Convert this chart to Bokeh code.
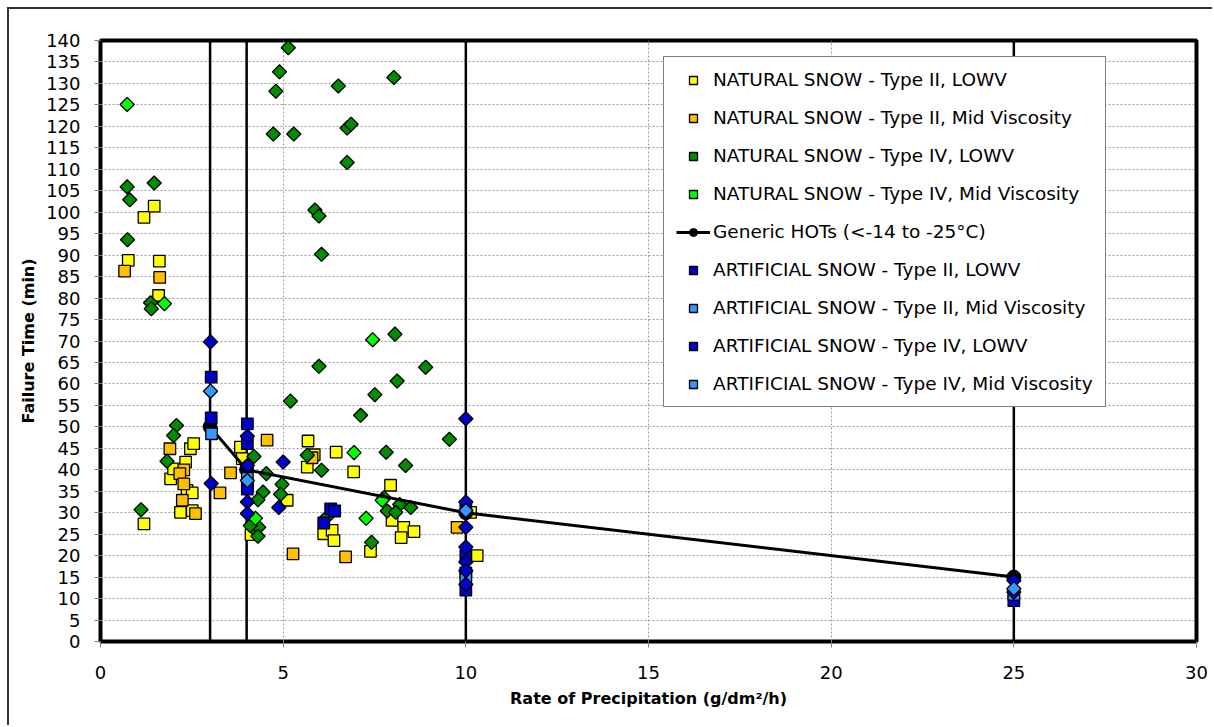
import math
from bokeh.plotting import figure
from bokeh.models import Range1d, FixedTicker
from bokeh.embed import file_html
from bokeh.resources import INLINE

# ---------------- data ----------------
x_ticks = [0, 5, 10, 15, 20, 25, 30]
y_ticks = list(range(0, 145, 5))
vline_x = [3, 4, 10, 25]

nat2_low_x = [0.76, 1.61, 1.59, 1.19, 1.47, 1.19, 1.92, 2.00, 2.33, 2.46, 2.55, 2.37, 2.51, 2.19, 2.51,
              3.83, 3.88, 4.12, 5.68, 5.66, 5.85, 6.45, 6.93, 5.11, 6.11, 6.34, 6.39, 7.39, 7.94, 7.98,
              8.30, 8.58, 8.23, 10.13, 10.31]
nat2_low_y = [88.8, 88.6, 80.6, 98.8, 101.4, 27.4, 37.9, 40.2, 41.8, 44.9, 46.1, 35.2, 34.6, 30.1, 30.5,
              45.3, 42.6, 24.9, 46.7, 40.6, 43.5, 44.1, 39.5, 32.9, 25.1, 25.9, 23.5, 21.0, 36.4, 28.2,
              26.6, 25.6, 24.2, 30.1, 20.0]

nat2_mid_x = [0.66, 1.62, 1.90, 2.28, 2.17, 2.28, 2.24, 2.60, 3.56, 3.27, 4.56, 5.27, 6.71, 5.79, 9.76]
nat2_mid_y = [86.3, 84.8, 44.9, 40.0, 39.1, 36.7, 32.9, 29.8, 39.3, 34.6, 46.9, 20.4, 19.7, 42.8, 26.6]

nat4_low_x = [0.73, 0.80, 1.47, 0.74, 5.14, 4.90, 4.80, 4.73, 5.29, 6.51, 6.75, 6.86, 6.75, 5.87, 5.98,
              8.03, 6.05, 1.37, 1.39, 5.98, 8.06, 8.12, 7.51, 7.12, 5.20, 2.08, 8.90, 9.55, 8.35, 8.49,
              1.11, 2.00, 1.82, 4.20, 4.54, 5.66, 6.05, 4.97, 4.93, 4.45, 4.31, 4.20, 4.33, 4.31, 4.10,
              7.42, 7.82, 8.19, 7.85, 8.08, 7.76, 6.20]
nat4_low_y = [105.9, 102.9, 106.8, 93.6, 138.3, 132.7, 128.2, 118.2, 118.2, 129.4, 119.6, 120.5, 111.6, 100.5, 99.1,
              131.4, 90.2, 78.9, 77.5, 64.1, 71.6, 60.7, 57.5, 52.7, 56.0, 50.3, 63.9, 47.1, 41.0, 31.2,
              30.7, 48.0, 42.0, 43.1, 39.1, 43.4, 39.9, 36.6, 34.3, 34.8, 33.0, 26.3, 26.6, 24.5, 27.0,
              23.1, 44.1, 31.9, 30.4, 30.1, 33.5, 29.0]

nat4_mid_x = [0.73, 1.75, 7.45, 4.24, 6.94, 7.27, 7.71]
nat4_mid_y = [125.1, 78.7, 70.3, 28.7, 44.0, 28.7, 32.9]

hot_x = [3, 4, 10, 25]
hot_y = [50, 40, 30, 15]

art2_low_x = [3.03, 3.03, 4.02, 4.02, 4.02, 4.02, 6.30, 6.41, 6.11, 10, 10, 10, 10, 25]
art2_low_y = [61.6, 52.1, 50.7, 46.1, 36.4, 35.5, 30.9, 30.4, 27.6, 12.0, 16.0, 20.0, 31.5, 9.5]

art2_mid_x = [3.04, 4.02, 10, 25]
art2_mid_y = [48.4, 38.0, 15.0, 11.0]

art4_low_x = [3.01, 3.03, 4.02, 4.02, 4.02, 4.02, 5.00, 4.88, 10, 10, 10, 10, 10, 10, 10, 25, 25]
art4_low_y = [69.8, 36.8, 47.8, 41.0, 32.5, 29.8, 41.8, 31.2, 51.9, 32.5, 26.6, 22.0, 18.5, 16.5, 13.3, 14.2, 11.5]

art4_mid_x = [3.01, 4.02, 10, 25]
art4_mid_y = [58.3, 37.5, 30.5, 12.3]

x_title = "Rate of Precipitation (g/dm²/h)"
y_title = "Failure Time (min)"

# ---------------- figure ----------------
FONT = "DejaVu Sans"
p = figure(width=1212, height=725, x_range=Range1d(0, 30), y_range=Range1d(0, 140),
           output_backend="svg", toolbar_location=None,
           min_border_left=100, min_border_right=16, min_border_top=40, min_border_bottom=84)
# outer chart-area border (left and top edges visible, as in the reference)
p.border_fill_color = None
p.styles = {"box-shadow": "inset 7px 7px 0 0 #ffffff, inset 9px 9px 0 0 #333333"}

p.outline_line_color = "black"
p.outline_line_width = 4

for ax in (p.xaxis, p.yaxis):
    ax.axis_line_color = None
    ax.major_tick_line_color = "#808080"
    ax.major_tick_line_width = 1
    ax.major_tick_out = 6
    ax.major_tick_in = 0
    ax.minor_tick_line_color = None
    ax.major_label_text_font = FONT
    ax.major_label_text_font_size = "18px"
    ax.major_label_text_color = "black"
    ax.axis_label_text_font = FONT
    ax.axis_label_text_font_style = "bold"
    ax.axis_label_text_font_size = "16px"
    ax.axis_label_text_color = "black"

p.xaxis.ticker = FixedTicker(ticks=x_ticks)
p.yaxis.ticker = FixedTicker(ticks=y_ticks)
p.xaxis.major_label_standoff = 18
p.yaxis.major_label_standoff = 14
p.xaxis.axis_label = x_title
p.yaxis.axis_label = y_title
p.xaxis.axis_label_standoff = 7
p.yaxis.axis_label_standoff = 5

p.xgrid.ticker = FixedTicker(ticks=x_ticks)
p.ygrid.ticker = FixedTicker(ticks=y_ticks)
for g in (p.xgrid, p.ygrid):
    g.grid_line_color = "#9a9a9a"
    g.grid_line_dash = "2 2"
    g.grid_line_width = 1

# vertical reference lines
p.segment(x0=vline_x, y0=[0] * len(vline_x), x1=vline_x, y1=[140] * len(vline_x),
          line_color="black", line_width=2.5)

SQ = 11.5
DM = 10
ANG = math.pi / 4

p.scatter(nat2_low_x, nat2_low_y, marker="square", size=SQ, fill_color="#FFFF00",
          line_color="black", line_width=1.3, legend_label="NATURAL SNOW - Type II, LOWV")
p.scatter(nat2_mid_x, nat2_mid_y, marker="square", size=SQ, fill_color="#FFC000",
          line_color="black", line_width=1.3, legend_label="NATURAL SNOW - Type II, Mid Viscosity")
p.scatter(nat4_low_x, nat4_low_y, marker="square", angle=ANG, size=DM, fill_color="#008C00",
          line_color="black", line_width=1.3, legend_label="NATURAL SNOW - Type IV, LOWV")
p.scatter(nat4_mid_x, nat4_mid_y, marker="square", angle=ANG, size=DM, fill_color="#00FF00",
          line_color="black", line_width=1.3, legend_label="NATURAL SNOW - Type IV, Mid Viscosity")
p.line(hot_x, hot_y, line_color="black", line_width=3, legend_label="Generic HOTs (<-14 to -25°C)")
p.scatter(hot_x, hot_y, marker="circle", size=14, fill_color="black", line_color="black",
          legend_label="Generic HOTs (<-14 to -25°C)")
p.scatter(art2_low_x, art2_low_y, marker="square", size=SQ, fill_color="#0000CC",
          line_color="black", line_width=1.3, legend_label="ARTIFICIAL SNOW - Type II, LOWV")
p.scatter(art2_mid_x, art2_mid_y, marker="square", size=SQ, fill_color="#3399FF",
          line_color="black", line_width=1.3, legend_label="ARTIFICIAL SNOW - Type II, Mid Viscosity")
p.scatter(art4_low_x, art4_low_y, marker="square", angle=ANG, size=DM, fill_color="#0000CC",
          line_color="black", line_width=1.3, legend_label="ARTIFICIAL SNOW - Type IV, LOWV")
p.scatter(art4_mid_x, art4_mid_y, marker="square", angle=ANG, size=DM, fill_color="#3399FF",
          line_color="black", line_width=1.3, legend_label="ARTIFICIAL SNOW - Type IV, Mid Viscosity")

lg = p.legend[0]
lg.location = (563, 234)
lg.label_text_font = FONT
lg.label_text_font_size = "18.5px"
lg.label_text_color = "black"
lg.padding = 12
lg.spacing = 17
lg.margin = 0
lg.glyph_width = 34
lg.glyph_height = 20
lg.label_height = 20
lg.label_standoff = 3
lg.border_line_color = "black"
lg.border_line_width = 1
lg.background_fill_color = "white"
lg.background_fill_alpha = 1

open("out.html", "w").write(file_html(p, INLINE))
